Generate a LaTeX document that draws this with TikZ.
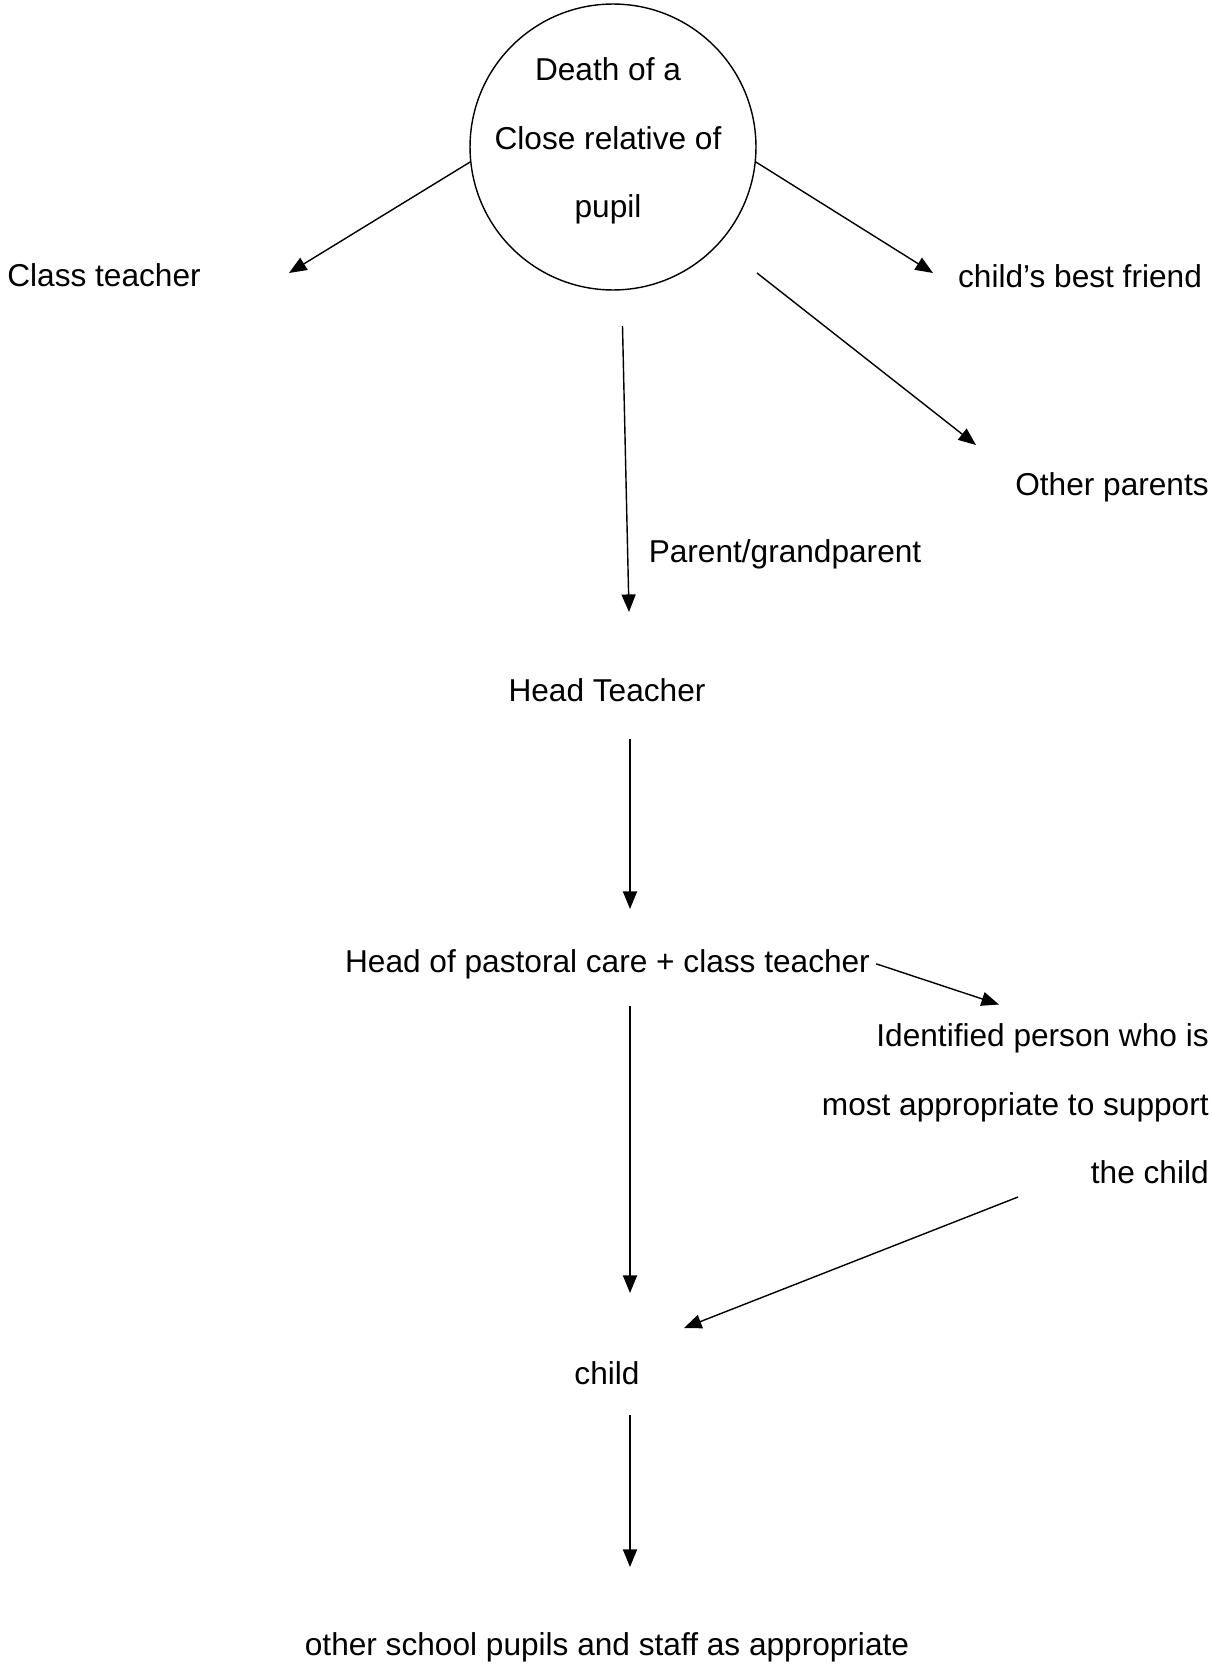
\documentclass[tikz,border=0pt]{standalone}
\usepackage{fontspec}
\setmainfont{Liberation Sans}
\usetikzlibrary{arrows.meta}

\begin{document}
\begin{tikzpicture}[x=0.02cm, y=-0.02cm, >={Triangle[length=10pt, width=8pt]},
        lbl/.style={anchor=base, inner sep=3.4pt, font=\fontsize{18}{39}\selectfont},
        link/.style={->, line width=0.8pt}]
        \useasboundingbox (0, 0) rectangle (1211, 1666);
        % the event
        \node[circle, draw, line width=0.8pt, minimum size=5.72cm] (death) at (613, 147) {};
        \node[lbl, anchor=center, align=center] (deathtxt) at (608, 141) {Death of a\\Close relative of\\pupil};
        % who is told
        \node[lbl] (classt) at (104, 286) {Class teacher};
        \node[lbl] (friend) at (1080, 287) {child’s best friend};
        \node[lbl] (others) at (1112, 495) {Other parents};
        \node[lbl] (parent) at (785, 562) {Parent/grandparent};
        \node[lbl] (head) at (607, 701) {Head Teacher};
        \node[lbl] (pastoral) at (607.5, 972) {Head of pastoral care + class teacher};
        \node[lbl, anchor=east, align=right] (person) at (1215, 1104) {Identified person who is\\most appropriate to support\\the child};
        \node[lbl] (child) at (607, 1384) {child};
        \node[lbl] (pupils) at (607, 1655) {other school pupils and staff as appropriate};
        % arrow ends
        \coordinate (c1) at (289, 273);
        \coordinate (c2) at (933, 273);
        \coordinate (c3) at (757, 273);
        \coordinate (c4) at (976, 445);
        \coordinate (c5) at (622.5, 326);
        \coordinate (c6) at (629, 612);
        \coordinate (c7) at (630, 739);
        \coordinate (c8) at (630, 909);
        \coordinate (c9) at (999, 1004.5);
        \coordinate (c10) at (630, 1006);
        \coordinate (c11) at (630, 1293);
        \coordinate (c12) at (1018, 1197);
        \coordinate (c13) at (684, 1328);
        \coordinate (c14) at (630, 1415);
        \coordinate (c15) at (630, 1567);
        \draw[link] (death.186) -- (c1);
        \draw[link] (death.354) -- (c2);
        \draw[link] (c3) -- (c4);
        \draw[link] (c5) -- (c6);
        \draw[link] (c7) -- (c8);
        \draw[link] (pastoral.east) -- (c9);
        \draw[link] (c10) -- (c11);
        \draw[link] (c12) -- (c13);
        \draw[link] (c14) -- (c15);
    \end{tikzpicture}
\end{document}
